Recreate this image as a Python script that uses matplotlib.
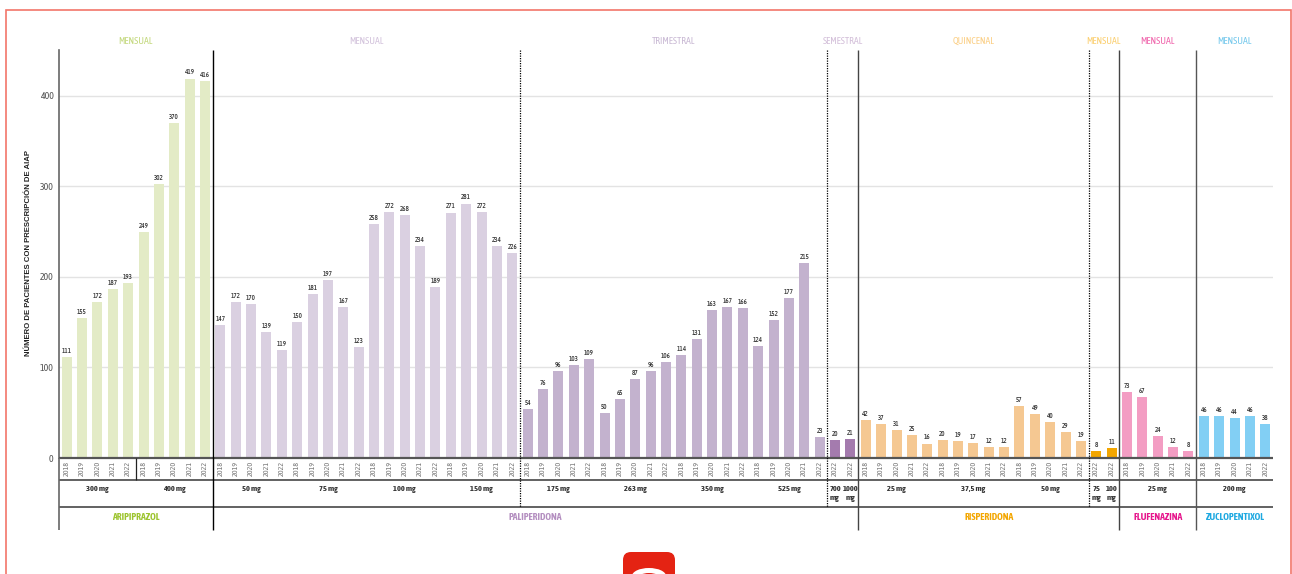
import matplotlib
matplotlib.use("Agg")
import matplotlib.pyplot as plt
from matplotlib.patches import FancyBboxPatch, Ellipse, Rectangle
from matplotlib.transforms import blended_transform_factory

# years under every bar, dose groups and drug groups are spans of bars
years_all = ["2018", "2019", "2020", "2021", "2022"]

ari_values = [111, 155, 172, 187, 193, 249, 302, 370, 419, 416]
pali_month = [147, 172, 170, 139, 119, 150, 181, 197, 167, 123,
              258, 272, 268, 234, 189, 271, 281, 272, 234, 226]
pali_trim = [54, 76, 96, 103, 109, 50, 65, 87, 96, 106,
             114, 131, 163, 167, 166, 124, 152, 177, 215, 23]
pali_sem = [20, 21]
risp_quin = [42, 37, 31, 25, 16, 20, 19, 17, 12, 12, 57, 49, 40, 29, 19]
risp_month = [8, 11]
flu_values = [73, 67, 24, 12, 8]
zuc_values = [46, 46, 44, 46, 38]

groups = [
    (ari_values, "#e3ebc6"),
    (pali_month, "#dad0e1"),
    (pali_trim, "#c3b2ce"),
    (pali_sem, "#a47bae"),
    (risp_quin, "#f5c892"),
    (risp_month, "#f3a600"),
    (flu_values, "#f39dc3"),
    (zuc_values, "#82cff4"),
]

doses = [("300 mg", 5), ("400 mg", 5), ("50 mg", 5), ("75 mg", 5), ("100 mg", 5),
         ("150 mg", 5), ("175 mg", 5), ("263 mg", 5), ("350 mg", 5), ("525 mg", 5),
         ("700\nmg", 1), ("1000\nmg", 1), ("25 mg", 5), ("37,5 mg", 5), ("50 mg", 5),
         ("75\nmg", 1), ("100\nmg", 1), ("25 mg", 5), ("200 mg", 5)]

drugs = [("ARIPIPRAZOL", 10, "#9dc42f"), ("PALIPERIDONA", 42, "#b48fc0"),
         ("RISPERIDONA", 17, "#f3a600"), ("FLUFENAZINA", 5, "#e6168c"),
         ("ZUCLOPENTIXOL", 5, "#1fa9e1")]

freqs = [("MENSUAL", 10, "#c3d87c"), ("MENSUAL", 20, "#d3c3dc"), ("TRIMESTRAL", 20, "#c9b9d4"),
         ("SEMESTRAL", 2, "#d3bfd9"), ("QUINCENAL", 15, "#fbcf85"), ("MENSUAL", 2, "#fbcf70"),
         ("MENSUAL", 5, "#f065ac"), ("MENSUAL", 5, "#74c8ec")]

W, H = 1292, 574
plt.rcParams['font.family'] = ['Asap Condensed', 'Liberation Sans', 'DejaVu Sans']

fig = plt.figure(figsize=(W / 100, H / 100), dpi=100)
ax = fig.add_axes([59 / W, 1 - 458 / H, (1273 - 59) / W, (458 - 50) / H])

values = []
colors = []
years = []
for vals, col in groups:
    values += vals
    colors += [col] * len(vals)
    if len(vals) == 2:
        years += ["2022", "2022"]
    else:
        years += years_all * (len(vals) // 5)
xs = list(range(len(values)))

ax.set_xlim(-0.5, len(values) - 0.5)
ax.set_ylim(0, 450.5)
ax.grid(axis='y', color='#e3e3e3', linewidth=1)
ax.set_axisbelow(True)
ax.bar(xs, values, width=0.65, color=colors)

for x, v in zip(xs, values):
    ax.annotate(str(v), (x, v), xytext=(0, 1.5), textcoords='offset points', ha='center',
                va='bottom', fontsize=5, color='#333333', fontweight='medium')

for s in ['top', 'right', 'bottom']:
    ax.spines[s].set_visible(False)
ax.spines['left'].set_color('#666666')
ax.spines['left'].set_linewidth(1.2)
ax.set_yticks([0, 100, 200, 300, 400])
ax.tick_params(axis='y', length=0, labelsize=7, labelcolor='#555555', pad=4)
ax.set_xticks(xs)
ax.set_xticklabels(years, rotation=90, fontsize=5.8, color='#777777')
ax.tick_params(axis='x', length=0, pad=2)
fig.text(29 / W, 1 - 253 / H, "NÚMERO DE PACIENTES CON PRESCRIPCIÓN DE AIAP", rotation=90,
         ha='center', va='center', fontsize=5.6, fontweight='bold', color='#222222',
         family=['Liberation Sans', 'DejaVu Sans'])

# table under the axis, y in pixels of the figure, x in bar positions
tr = blended_transform_factory(ax.transData, fig.transFigure)


def ypix(p):
    return 1 - p / H


def hline(p, col='#555555', lw=1.3):
    ax.plot([-0.5, len(values) - 0.5], [ypix(p)] * 2, transform=tr, color=col, lw=lw,
            clip_on=False, solid_capstyle='butt', zorder=5)


def vline(x, top, bot, col='#000000', lw=1.0, ls='-'):
    ax.plot([x, x], [ypix(top), ypix(bot)], transform=tr, color=col, lw=lw, ls=ls,
            clip_on=False, zorder=6, solid_capstyle='butt')


hline(458, '#555555', 1.6)
hline(480)
hline(507)
vline(-0.5, 458, 530, '#666666', 1.2)
vline(4.5, 458, 480, '#222222', 0.9)
vline(9.5, 50, 530, '#000000', 1.0)
vline(29.5, 50, 507, '#000000', 0.9, (0, (1, 1)))
vline(49.5, 50, 507, '#000000', 0.9, (0, (1, 1)))
vline(51.5, 50, 530, '#444444', 1.0)
vline(66.5, 50, 507, '#000000', 0.9, (0, (1, 1)))
vline(68.5, 50, 530, '#444444', 1.0)
vline(73.5, 50, 530, '#555555', 1.0)

pos = 0
for name, n in doses:
    cx = pos + (n - 1) / 2
    if "\n" in name:
        a, b = name.split("\n")
        ax.text(cx, ypix(489), a, transform=tr, ha='center', va='center', fontsize=6,
                fontweight='bold', color='#333333')
        ax.text(cx, ypix(498), b, transform=tr, ha='center', va='center', fontsize=6,
                fontweight='bold', color='#333333')
    else:
        ax.text(cx, ypix(489), name, transform=tr, ha='center', va='center', fontsize=6,
                fontweight='bold', color='#333333')
    pos += n

pos = 0
for name, n, col in drugs:
    ax.text(pos + (n - 1) / 2, ypix(517), name, transform=tr, ha='center', va='center',
            fontsize=7, fontweight='bold', color=col)
    pos += n

pos = 0
for name, n, col in freqs:
    ax.text(pos + (n - 1) / 2, ypix(41), name, transform=tr, ha='center', va='center',
            fontsize=7, color=col)
    pos += n

# red page frame and logo
fig.add_artist(Rectangle((6 / W, -0.1), (1290.5 - 6) / W, ypix(10.5) + 0.1, fill=False,
                         edgecolor='#f2766a', lw=1.2, transform=fig.transFigure))
fig.add_artist(FancyBboxPatch((623, -30), 52, 52, boxstyle="round,pad=0,rounding_size=8",
                              facecolor='#e42313', edgecolor='none', transform=None))
fig.add_artist(Ellipse((649, -2), 34, 16, facecolor='white', edgecolor='none', transform=None))
fig.add_artist(Ellipse((649, -5), 24, 12, facecolor='#e42313', edgecolor='none', transform=None))

fig.savefig("out.png", dpi=100)
